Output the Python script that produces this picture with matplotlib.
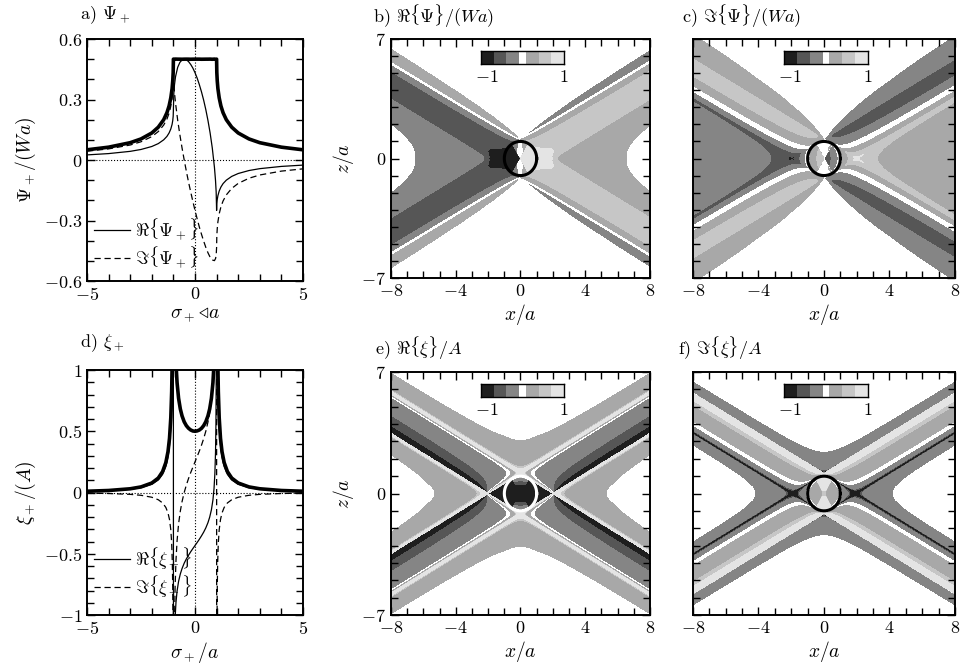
import numpy as np
import matplotlib
matplotlib.use('Agg')
import matplotlib.pyplot as plt
from matplotlib.ticker import MultipleLocator, FixedLocator
from matplotlib.lines import Line2D

plt.rcParams['mathtext.fontset'] = 'cm'
plt.rcParams['font.family'] = 'serif'
plt.rcParams['font.serif'] = ['cmr10', 'DejaVu Serif']
plt.rcParams['axes.formatter.use_mathtext'] = True
plt.rcParams['font.size'] = 13

# profile of Psi_+ / (Wa) against sigma_+ / a (panel a)
sig_psi = np.array([-5, -4, -3, -2.5, -2, -1.7, -1.45, -1.3, -1.2, -1.12, -1.06, -1.03, -1.01, -1.0,
                    -0.98, -0.95, -0.9, -0.8, -0.7, -0.6, -0.5, -0.4, -0.3, -0.2, -0.1, 0, 0.1, 0.2,
                    0.3, 0.4, 0.5, 0.6, 0.7, 0.8, 0.9, 0.95, 0.98, 1.0, 1.01, 1.03, 1.06, 1.12, 1.2,
                    1.3, 1.45, 1.7, 2, 2.5, 3, 4, 5])
psi_re = np.array([0.0253, 0.0318, 0.0429, 0.0522, 0.067, 0.0813, 0.1, 0.117, 0.134, 0.154, 0.177,
                   0.196, 0.217, 0.25, 0.331, 0.373, 0.414, 0.46, 0.484, 0.496, 0.5, 0.497, 0.488,
                   0.474, 0.456, 0.433, 0.406, 0.374, 0.338, 0.297, 0.25, 0.196, 0.134, 0.0598,
                   -0.0363, -0.102, -0.159, -0.25, -0.217, -0.196, -0.177, -0.154, -0.134, -0.117,
                   -0.1, -0.0813, -0.067, -0.0522, -0.0429, -0.0318, -0.0253])
psi_im = np.array([0.0438, 0.0551, 0.0743, 0.0904, 0.116, 0.141, 0.173, 0.203, 0.232, 0.267, 0.307,
                   0.34, 0.376, 0.433, 0.375, 0.333, 0.281, 0.196, 0.125, 0.0598, 0.0, -0.0559,
                   -0.109, -0.158, -0.205, -0.25, -0.292, -0.332, -0.368, -0.402, -0.433, -0.46,
                   -0.482, -0.496, -0.499, -0.489, -0.474, -0.433, -0.376, -0.34, -0.307, -0.267,
                   -0.232, -0.203, -0.173, -0.141, -0.116, -0.0904, -0.0743, -0.0551, -0.0438])

# profile of xi_+ / A against sigma_+ / a (panel d)
sig_xi = np.array([-5, -4, -3, -2.5, -2, -1.7, -1.5, -1.35, -1.25, -1.18, -1.12, -1.08, -1.05, -1.03,
                   -1.015, -1.005, -0.995, -0.985, -0.97, -0.95, -0.92, -0.88, -0.83, -0.76, -0.68,
                   -0.6, -0.5, -0.4, -0.3, -0.2, -0.1, 0, 0.1, 0.2, 0.3, 0.4, 0.5, 0.6, 0.68, 0.76,
                   0.83, 0.88, 0.92, 0.95, 0.97, 0.985, 0.995, 1.005, 1.015, 1.03, 1.05, 1.08, 1.12,
                   1.18, 1.25, 1.35, 1.5, 1.7, 2, 2.5, 3, 4, 5])
xi_re = np.array([0.00893, 0.0142, 0.0263, 0.0394, 0.067, 0.102, 0.148, 0.212, 0.289, 0.383, 0.529,
                  0.713, 0.987, 1.37, 2.1, 3.91, -2.92, -1.86, -1.43, -1.19, -1.02, -0.896, -0.805,
                  -0.725, -0.665, -0.621, -0.577, -0.542, -0.512, -0.484, -0.458, -0.433, -0.408,
                  -0.382, -0.354, -0.324, -0.289, -0.246, -0.201, -0.141, -0.061, 0.0302, 0.154,
                  0.328, 0.564, 0.994, 2.06, 3.91, 2.1, 1.37, 0.987, 0.713, 0.529, 0.383, 0.289,
                  0.212, 0.148, 0.102, 0.067, 0.0394, 0.0263, 0.0142, 0.00893])
xi_im = np.array([-0.00516, -0.0082, -0.0152, -0.0228, -0.0387, -0.0591, -0.0854, -0.122, -0.167,
                  -0.221, -0.305, -0.412, -0.57, -0.793, -1.21, -2.26, -4.06, -2.22, -1.48, -1.07,
                  -0.766, -0.552, -0.394, -0.256, -0.152, -0.0748, 0.0, 0.061, 0.114, 0.162, 0.206,
                  0.25, 0.294, 0.338, 0.386, 0.439, 0.5, 0.575, 0.652, 0.756, 0.894, 1.05, 1.27,
                  1.57, 1.98, 2.72, 4.56, -2.26, -1.21, -0.793, -0.57, -0.412, -0.305, -0.221,
                  -0.167, -0.122, -0.0854, -0.0591, -0.0387, -0.0228, -0.0152, -0.0082, -0.00516])

grays = ['#1e1e1e', '#565656', '#858585', '#ffffff', '#a8a8a8', '#c6c6c6', '#e4e4e4']
lev_psi = [-50, -0.6, -0.3, -0.08, 0.08, 0.3, 0.6, 50]
lev_xi = [-50, -0.62, -0.45, -0.07, 0.07, 0.45, 0.62, 50]

fig = plt.figure(figsize=(9.62, 6.71), dpi=100)
W, H = 962, 671
def box(l, r, t, b):
    return [l / W, 1 - b / H, (r - l) / W, (b - t) / H]

ax_a = fig.add_axes(box(87, 303, 39, 281))
ax_b = fig.add_axes(box(391, 650, 39, 278))
ax_c = fig.add_axes(box(693, 955, 39, 278))
ax_d = fig.add_axes(box(87, 303, 370, 615))
ax_e = fig.add_axes(box(391, 650, 372, 615))
ax_f = fig.add_axes(box(693, 955, 372, 615))

def style(ax):
    ax.tick_params(which='both', direction='in', top=True, right=True, width=1)
    ax.tick_params(which='major', length=6)
    ax.tick_params(which='minor', length=5)
    for sp in ax.spines.values():
        sp.set_linewidth(1.4)

def line_panel(ax, sig, re, im, ylim, yt, ytl, ylab, xlab, leg, leg_y):
    ax.axhline(0, color='k', lw=0.8, ls=':')
    ax.axvline(0, color='k', lw=0.8, ls=':')
    ax.plot(sig, np.hypot(re, im), color='k', lw=2.6)
    ax.plot(sig, re, color='k', lw=0.9)
    ax.plot(sig, im, color='k', lw=0.9, ls=(0, (5, 3)))
    ax.set_xlim(-5, 5)
    ax.set_ylim(*ylim)
    ax.xaxis.set_major_locator(FixedLocator([-5, 0, 5]))
    ax.set_xticklabels([r'$-5$', r'$0$', r'$5$'])
    ax.xaxis.set_minor_locator(MultipleLocator(1))
    ax.yaxis.set_major_locator(FixedLocator(yt))
    ax.set_yticklabels(ytl)
    ax.yaxis.set_minor_locator(MultipleLocator(0.1))
    ax.set_ylabel(ylab, fontsize=14)
    ax.set_xlabel(xlab, fontsize=14, labelpad=2)
    hs = [Line2D([], [], color='k', lw=0.9), Line2D([], [], color='k', lw=0.9, ls=(0, (5, 3)))]
    ax.legend(hs, leg, loc='lower left', bbox_to_anchor=(-0.02, leg_y),
              frameon=False, handlelength=2.0, handletextpad=0.3, labelspacing=0.15, fontsize=13,
              borderaxespad=0.2)
    style(ax)

line_panel(ax_a, sig_psi, psi_re, psi_im, (-0.6, 0.6), [-0.6, -0.3, 0, 0.3, 0.6],
           [r'$-0.6$', r'$-0.3$', r'$0$', r'$0.3$', r'$0.6$'], r'$\Psi_+/(Wa)$',
           r'$\sigma_+\!\triangleleft\!a$', [r'$\Re\{\Psi_+\}$', r'$\Im\{\Psi_+\}$'], 0.0)
line_panel(ax_d, sig_xi, xi_re, xi_im, (-1, 1), [-1, -0.5, 0, 0.5, 1],
           [r'$-1$', r'$-0.5$', r'$0$', r'$0.5$', r'$1$'], r'$\xi_+/(A)$', r'$\sigma_+/a$',
           [r'$\Re\{\xi_+\}$', r'$\Im\{\xi_+\}$'], 0.02)

# maps built from the 1-D profiles along the two characteristic coordinates
xs = np.linspace(-8, 8, 561)
zs = np.linspace(-7, 7, 491)
X, Z = np.meshgrid(xs, zs)
sn, cs = 0.5, np.sqrt(3) / 2
s_p = -X * sn + Z * cs
s_m = X * sn + Z * cs
t_p = X * cs + Z * sn
t_m = -X * cs + Z * sn

def prof(sig, vals, q, power):
    v = np.interp(q, sig, vals)
    hi = q > sig[-1]
    lo = q < sig[0]
    v[hi] = vals[-1] * (sig[-1] / q[hi]) ** power
    v[lo] = vals[0] * (sig[0] / q[lo]) ** power
    return v

def Pc(q):
    return prof(sig_psi, psi_re, q, 1) + 1j * prof(sig_psi, psi_im, q, 1)

def Xc(q):
    return prof(sig_xi, xi_re, q, 2) + 1j * prof(sig_xi, xi_im, q, 2)

psi = np.where(t_m > 0, -Pc(s_m), Pc(-s_m)) + np.where(t_p > 0, Pc(s_p), -Pc(-s_p))
xi = np.where(t_m > 0, Xc(s_m), Xc(-s_m)) + np.where(t_p > 0, Xc(s_p), Xc(-s_p))

def map_panel(ax, fld, lev, ring, left):
    ax.contourf(X, Z, fld, levels=lev, colors=grays)
    th = np.linspace(0, 2 * np.pi, 200)
    ax.plot(np.cos(th), np.sin(th), color=ring, lw=2.2)
    ax.set_xlim(-8, 8)
    ax.set_ylim(-7, 7)
    ax.xaxis.set_major_locator(FixedLocator([-8, -4, 0, 4, 8]))
    ax.set_xticklabels([r'$-8$', r'$-4$', r'$0$', r'$4$', r'$8$'])
    ax.xaxis.set_minor_locator(MultipleLocator(1))
    ax.yaxis.set_major_locator(FixedLocator([-7, 0, 7]))
    ax.yaxis.set_minor_locator(MultipleLocator(1))
    if left:
        ax.set_yticklabels([r'$-7$', r'$0$', r'$7$'])
        ax.set_ylabel(r'$z/a$', fontsize=14)
    else:
        ax.set_yticklabels([])
    ax.set_xlabel(r'$x/a$', fontsize=14, labelpad=2)
    cax = ax.inset_axes([-2.45, 5.56, 5.15, 0.72], transform=ax.transData)
    widths = [1, 1, 1, 0.5, 1, 1, 1]
    edges = np.concatenate([[0], np.cumsum(widths)])
    for i, col in enumerate(grays):
        cax.axvspan(edges[i], edges[i + 1], color=col, lw=0)
    cax.set_xlim(0, edges[-1])
    cax.set_xticks([])
    cax.set_yticks([])
    for sp in cax.spines.values():
        sp.set_linewidth(1.0)
    ax.text(-2.1, 4.8, r'$-1$', ha='center', va='center', fontsize=13)
    ax.text(2.68, 4.8, r'$1$', ha='center', va='center', fontsize=13)
    style(ax)

map_panel(ax_b, psi.real, lev_psi, 'k', True)
map_panel(ax_c, psi.imag, lev_psi, 'k', False)
map_panel(ax_e, xi.real, lev_xi, 'w', True)
map_panel(ax_f, xi.imag, lev_xi, 'k', False)

fig.text(80 / W, 1 - 15 / H, r'a) $\Psi_+$', va='center', fontsize=13)
fig.text(373 / W, 1 - 16 / H, r'b) $\Re\{\Psi\}/(Wa)$', va='center', fontsize=13)
fig.text(682 / W, 1 - 16 / H, r'c) $\Im\{\Psi\}/(Wa)$', va='center', fontsize=13)
fig.text(80 / W, 1 - 343 / H, r'd) $\xi_+$', va='center', fontsize=13)
fig.text(375 / W, 1 - 348 / H, r'e) $\Re\{\xi\}/A$', va='center', fontsize=13)
fig.text(678 / W, 1 - 348 / H, r'f) $\Im\{\xi\}/A$', va='center', fontsize=13)

fig.savefig('out.png', dpi=100)
